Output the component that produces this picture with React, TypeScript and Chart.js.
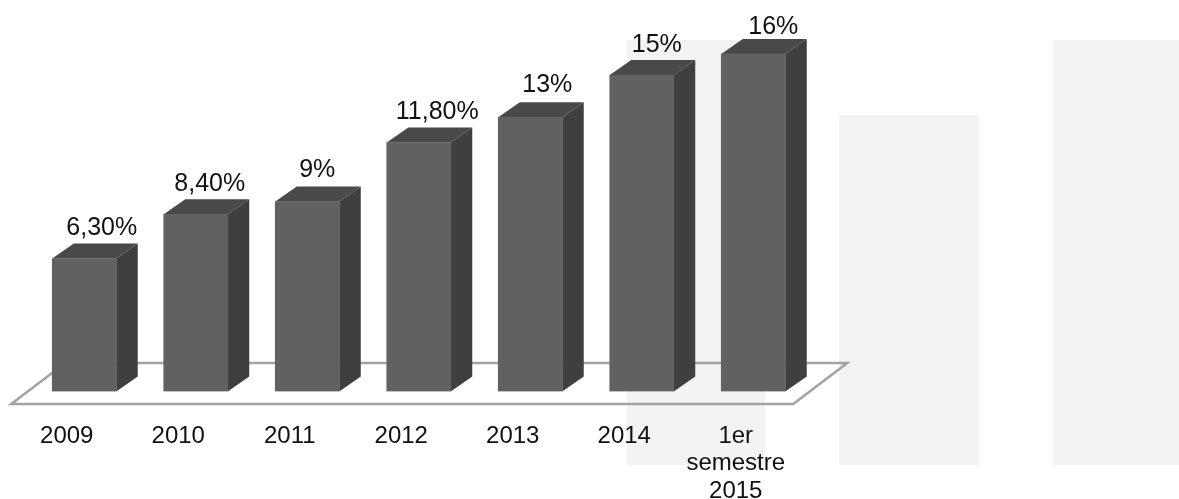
import React, { useEffect, useRef } from "react";
import { Chart, registerables } from "chart.js";

Chart.register(...registerables);

const categories: (string | string[])[] = ["2009", "2010", "2011", "2012", "2013", "2014", ["1er", "semestre", "2015"]];
const shares = [6.3, 8.4, 9, 11.8, 13, 15, 16];
const shareLabels = ["6,30%", "8,40%", "9%", "11,80%", "13%", "15%", "16%"];

const FONT = '"Liberation Sans", Arial, sans-serif';
const DEPTH_X = 21.5;
const DEPTH_Y = 15;

// Pale panels standing behind the chart.
const backdrop = {
  id: "backdrop",
  beforeDraw(chart: Chart) {
    const { ctx } = chart;
    ctx.save();
    ctx.fillStyle = "#f3f3f3";
    ctx.fillRect(627, 40, 138, 425);
    ctx.fillRect(839, 115, 140, 350);
    ctx.fillRect(1053, 40, 126, 425);
    ctx.restore();
  },
};

// Floor slab, the extruded top and side faces of every bar, and the value captions.
const extrusion = {
  id: "extrusion",
  beforeDatasetsDraw(chart: Chart) {
    const { ctx, chartArea } = chart;
    const bars = chart.getDatasetMeta(0).data as any[];
    const floorFront = chartArea.bottom + 12.5;
    const floorBack = floorFront - 41;
    const floorLeft = bars[0].x - 73;
    const floorRight = bars[bars.length - 1].x + 40;

    ctx.save();
    ctx.strokeStyle = "#a2a2a2";
    ctx.lineWidth = 2.5;
    ctx.lineJoin = "miter";
    ctx.beginPath();
    ctx.moveTo(floorLeft, floorFront);
    ctx.lineTo(floorRight, floorFront);
    ctx.lineTo(floorRight + 54, floorBack);
    ctx.lineTo(floorLeft + 54, floorBack);
    ctx.closePath();
    ctx.stroke();

    for (const bar of bars) {
      const half = bar.width / 2;
      const left = bar.x - half;
      const right = bar.x + half;
      const top = bar.y;
      const bottom = bar.base;

      ctx.fillStyle = "#494949";
      ctx.beginPath();
      ctx.moveTo(left, top);
      ctx.lineTo(left + DEPTH_X, top - DEPTH_Y);
      ctx.lineTo(right + DEPTH_X, top - DEPTH_Y);
      ctx.lineTo(right, top);
      ctx.closePath();
      ctx.fill();

      ctx.fillStyle = "#3f3f3f";
      ctx.beginPath();
      ctx.moveTo(right, top);
      ctx.lineTo(right + DEPTH_X, top - DEPTH_Y);
      ctx.lineTo(right + DEPTH_X, bottom - DEPTH_Y);
      ctx.lineTo(right, bottom);
      ctx.closePath();
      ctx.fill();
    }
    ctx.restore();
  },
  afterDatasetsDraw(chart: Chart) {
    const { ctx } = chart;
    const bars = chart.getDatasetMeta(0).data as any[];
    // Hand placement of each caption relative to its bar's top-centre.
    const captionDx = [17.5, 14, 10, 18.5, 17, 15, 20];
    const captionDy = [-30, -30, -31, -30, -32, -30, -27];
    ctx.save();
    ctx.fillStyle = "#111111";
    ctx.font = `25px ${FONT}`;
    ctx.textAlign = "center";
    ctx.textBaseline = "middle";
    bars.forEach((bar, i) => {
      ctx.fillText(shareLabels[i], bar.x + captionDx[i], bar.y + captionDy[i]);
    });
    ctx.restore();
  },
};

export default function App() {
  const canvasRef = useRef<HTMLCanvasElement>(null);

  useEffect(() => {
    const chart = new Chart(canvasRef.current as HTMLCanvasElement, {
      type: "bar",
      data: {
        labels: categories as any,
        datasets: [
          {
            data: shares,
            backgroundColor: "#616161",
            barThickness: 64,
            borderWidth: 0,
          },
        ],
      },
      options: {
        animation: false,
        responsive: false,
        layout: { padding: { left: 28.5, right: 370, top: 11.7, bottom: 0 } },
        plugins: { legend: { display: false }, tooltip: { enabled: false } },
        scales: {
          x: {
            grid: { display: false },
            border: { display: false },
            afterFit(scale: any) {
              scale.height = 107.5;
            },
            ticks: {
              color: "#111111",
              font: { family: FONT, size: 24, lineHeight: 1.146 },
              padding: 23,
              labelOffset: -17.5,
              maxRotation: 0,
              autoSkip: false,
            },
          },
          y: { display: false, min: 0, max: 18 },
        },
      },
      plugins: [backdrop, extrusion],
    });
    return () => chart.destroy();
  }, []);

  return (
    <div style={{ position: "absolute", left: 0, top: 0 }}>
      <canvas ref={canvasRef} width={1179} height={499} style={{ display: "block" }} />
    </div>
  );
}
